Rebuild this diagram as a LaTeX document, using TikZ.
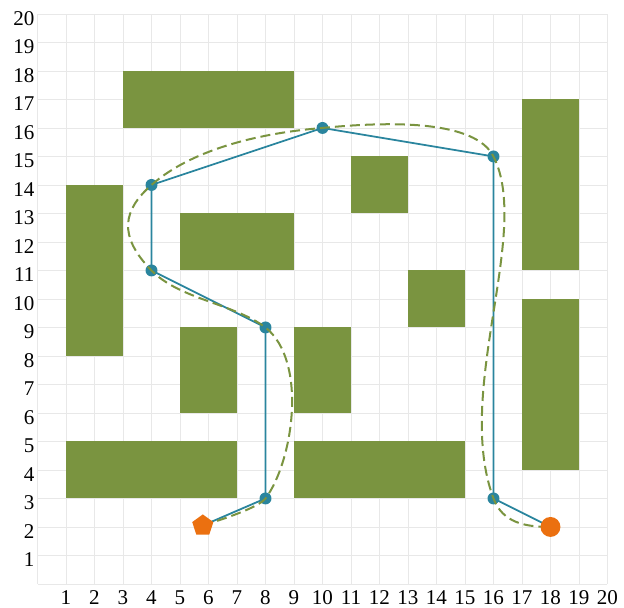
\documentclass[tikz,border=0pt]{standalone}
\usepackage{fontspec}
\setmainfont{Liberation Serif}
\usetikzlibrary{shapes.geometric}
\definecolor{obst}{RGB}{122,148,64}
\definecolor{pathc}{RGB}{42,133,158}
\definecolor{marko}{RGB}{235,112,16}
\definecolor{gridc}{RGB}{232,232,232}
\tikzset{
  obstacle/.style={fill=obst, draw=none},
  gridline/.style={draw=gridc, line width=0.8pt},
  route/.style={draw=pathc, line width=1.8pt},
  smoothroute/.style={draw=obst, line width=2pt, dash pattern=on 10pt off 5pt},
  waydot/.style={circle, fill=pathc, inner sep=0pt, minimum size=0.42cm},
  startmark/.style={regular polygon, regular polygon sides=5, fill=marko, inner sep=0pt, minimum size=0.78cm},
  goalmark/.style={circle, fill=marko, inner sep=0pt, minimum size=0.7cm},
  lab/.style={inner sep=0pt, font=\fontsize{21}{22}\selectfont}
}
\begin{document}
\begin{tikzpicture}
\useasboundingbox (-1.316,-0.842) rectangle (20.58,20.49);
% grid
\draw[gridline] (0,0) grid (20,20);
% labels
\foreach \i in {1,...,20} {
  \node[lab, anchor=east] (yl\i) at (-0.1,\i-0.15) {\i};
  \node[lab] (xl\i) at (\i,-0.47) {\i};
}
% obstacles
\fill[obstacle] (3,16) rectangle (9,18);
\fill[obstacle] (1,8) rectangle (3,14);
\fill[obstacle] (5,11) rectangle (9,13);
\fill[obstacle] (11,13) rectangle (13,15);
\fill[obstacle] (13,9) rectangle (15,11);
\fill[obstacle] (17,11) rectangle (19,17);
\fill[obstacle] (17,4) rectangle (19,10);
\fill[obstacle] (5,6) rectangle (7,9);
\fill[obstacle] (9,6) rectangle (11,9);
\fill[obstacle] (1,3) rectangle (7,5);
\fill[obstacle] (9,3) rectangle (15,5);
% waypoints
\coordinate (p0) at (5.8,2.05);
\coordinate (p1) at (8,3);
\coordinate (p2) at (8,9);
\coordinate (p3) at (4,11);
\coordinate (p4) at (4,14);
\coordinate (p5) at (10,16);
\coordinate (p6) at (16,15);
\coordinate (p7) at (16,3);
\coordinate (p8) at (18,2);
% polyline route
\draw[route] (p0) -- (p1) -- (p2) -- (p3) -- (p4) -- (p5) -- (p6) -- (p7) -- (p8);
\foreach \k in {1,...,7} { \node[waydot] (d\k) at (p\k) {}; }
% smoothed route
\draw[smoothroute] (p0)
  .. controls (6.47,2.26) and (7.76,2.68) .. (p1)
  .. controls (8.96,4.28) and (9.5,7.8) .. (p2)
  .. controls (6.88,9.84) and (4.98,9.99) .. (p3)
  .. controls (2.81,12.22) and (3.0,13.12) .. (p4)
  .. controls (5.5,15.32) and (8,15.84) .. (p5)
  .. controls (12.5,16.25) and (15.37,16.25) .. (p6)
  .. controls (17.35,12.33) and (14.6,6.76) .. (p7)
  .. controls (16.32,2.15) and (17.1,2) .. (p8);
% start and goal
\node[startmark] (start) at (p0) {};
\node[goalmark] (goal) at (p8) {};
\end{tikzpicture}
\end{document}
